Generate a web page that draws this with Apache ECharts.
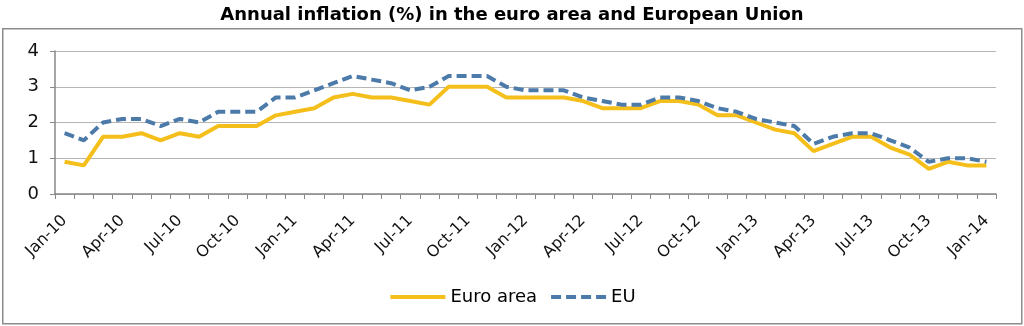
<!DOCTYPE html>
<html>
<head>
<meta charset="utf-8">
<script src="https://cdn.jsdelivr.net/npm/echarts@6/dist/echarts.min.js"></script>
<style>
html,body{margin:0;padding:0;background:#fff;}
#chart{width:1024px;height:326px;}
</style>
</head>
<body>
<div id="chart"></div>
<script>
const categories = [
  'Jan-10','Feb-10','Mar-10','Apr-10','May-10','Jun-10','Jul-10','Aug-10','Sep-10','Oct-10','Nov-10','Dec-10',
  'Jan-11','Feb-11','Mar-11','Apr-11','May-11','Jun-11','Jul-11','Aug-11','Sep-11','Oct-11','Nov-11','Dec-11',
  'Jan-12','Feb-12','Mar-12','Apr-12','May-12','Jun-12','Jul-12','Aug-12','Sep-12','Oct-12','Nov-12','Dec-12',
  'Jan-13','Feb-13','Mar-13','Apr-13','May-13','Jun-13','Jul-13','Aug-13','Sep-13','Oct-13','Nov-13','Dec-13',
  'Jan-14'
];
const euroArea = [
  0.9,0.8,1.6,1.6,1.7,1.5,1.7,1.6,1.9,1.9,1.9,2.2,
  2.3,2.4,2.7,2.8,2.7,2.7,2.6,2.5,3.0,3.0,3.0,2.7,
  2.7,2.7,2.7,2.6,2.4,2.4,2.4,2.6,2.6,2.5,2.2,2.2,
  2.0,1.8,1.7,1.2,1.4,1.6,1.6,1.3,1.1,0.7,0.9,0.8,
  0.8
];
const eu = [
  1.7,1.5,2.0,2.1,2.1,1.9,2.1,2.0,2.3,2.3,2.3,2.7,
  2.7,2.9,3.1,3.3,3.2,3.1,2.9,3.0,3.3,3.3,3.3,3.0,
  2.9,2.9,2.9,2.7,2.6,2.5,2.5,2.7,2.7,2.6,2.4,2.3,
  2.1,2.0,1.9,1.4,1.6,1.7,1.7,1.5,1.3,0.9,1.0,1.0,
  0.9
];
const yTicks = [0,1,2,3,4];

const chart = echarts.init(document.getElementById('chart'), null, {renderer:'canvas'});
const font = '"DejaVu Sans", "Liberation Sans", Arial, sans-serif';
chart.setOption({
  animation:false,
  backgroundColor:'#fff',
  textStyle:{fontFamily:font},
  graphic:[{
    type:'rect', left:2, top:28, z:-1,
    shape:{width:1019, height:295},
    style:{fill:'#fff', stroke:'#8c8c8c', lineWidth:1.5}
  }],
  title:{
    text:'Annual inflation (%) in the euro area and European Union',
    left:'center', top:1,
    textStyle:{fontFamily:font, fontSize:18, fontWeight:'bold', color:'#000'}
  },
  legend:{
    bottom:15, left:'center',
    itemWidth:55, itemHeight:14, itemGap:12,
    itemStyle:{opacity:0},
    lineStyle:{width:4},
    textStyle:{fontFamily:font, fontSize:18, color:'#000'},
    data:['Euro area','EU']
  },
  grid:{left:55, right:28, top:51, bottom:132, containLabel:false},
  xAxis:{
    type:'category',
    data:categories,
    boundaryGap:true,
    axisLine:{lineStyle:{color:'#888', width:1.5}},
    axisTick:{show:true, interval:0, length:5, lineStyle:{color:'#888'}},
    axisLabel:{interval:2, rotate:45, fontSize:16, color:'#111', margin:24, fontFamily:font},
    splitLine:{show:false}
  },
  yAxis:{
    type:'value', min:yTicks[0], max:yTicks[yTicks.length-1], interval:1,
    axisLine:{show:true, lineStyle:{color:'#888', width:1.5}},
    axisTick:{show:true, length:5, lineStyle:{color:'#888'}},
    axisLabel:{fontSize:18, color:'#111', margin:16, fontFamily:font},
    splitLine:{lineStyle:{color:'#b5b5b5', width:1.2}}
  },
  series:[
    {
      name:'Euro area', type:'line', data:euroArea, symbol:'none',
      lineStyle:{color:'#F5BF1B', width:4}, itemStyle:{color:'#F5BF1B'}, z:2
    },
    {
      name:'EU', type:'line', data:eu, symbol:'none',
      lineStyle:{color:'#4C7BAA', width:4, type:[10,5]}, itemStyle:{color:'#4C7BAA'}, z:3
    }
  ]
});
</script>
</body>
</html>
